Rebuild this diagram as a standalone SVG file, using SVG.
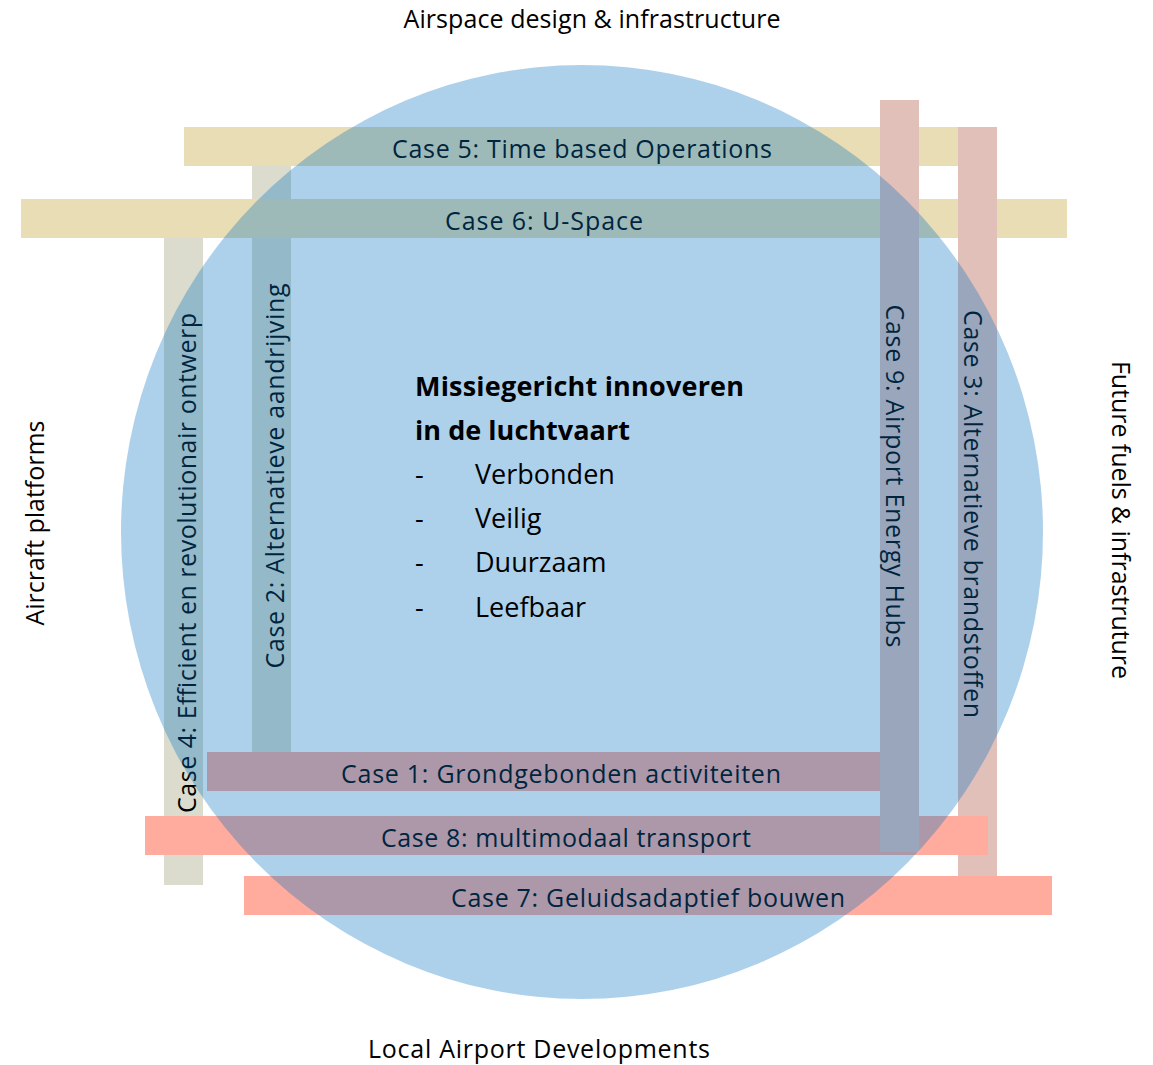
<svg xmlns="http://www.w3.org/2000/svg" width="1153" height="1065" viewBox="0 0 1153 1065">
<style>
text{font-family:"Open Sans","Noto Sans","Liberation Sans",sans-serif;fill:#000;}
.lbl{font-size:25px;}
.ax{font-size:25px;}
.grey{fill:#DBDCCD;}
.yel{fill:#E8DDB4;}
.pink{fill:#E2C0BA;}
.sal{fill:#FFAB9E;}
.mid{text-anchor:middle;}
.ctr{font-size:27px;}
.b{font-weight:bold;}
</style>
<rect width="1153" height="1065" fill="#fff"/>
<g id="axes">
<text class="ax mid" x="592" y="28" textLength="377" lengthAdjust="spacing">Airspace design &amp; infrastructure</text>
<text class="ax mid" x="539" y="1058" textLength="342" lengthAdjust="spacing">Local Airport Developments</text>
<text class="ax mid" transform="translate(44,523) rotate(-90)" textLength="205" lengthAdjust="spacing">Aircraft platforms</text>
<text class="ax mid" transform="translate(1112,520) rotate(90)" textLength="318" lengthAdjust="spacing">Future fuels &amp; infrastruture</text>
</g>
<g id="case2">
<rect class="grey" x="252" y="165" width="39" height="587"/>
<text class="lbl mid" transform="translate(284,476) rotate(-90)" textLength="385" lengthAdjust="spacing">Case 2: Alternatieve aandrijving</text>
</g>
<g id="case4">
<rect class="grey" x="164" y="238" width="39" height="647"/>
<text class="lbl mid" transform="translate(196,563) rotate(-90)" textLength="500" lengthAdjust="spacing">Case 4: Efficient en revolutionair ontwerp</text>
</g>
<g id="case5">
<rect class="yel" x="184" y="127" width="774" height="39"/>
<text class="lbl mid" x="582" y="158" textLength="380" lengthAdjust="spacing">Case 5: Time based Operations</text>
</g>
<g id="case6">
<rect class="yel" x="21" y="199" width="1046" height="39"/>
<text class="lbl mid" x="544" y="230" textLength="198" lengthAdjust="spacing">Case 6: U-Space</text>
</g>
<g id="case3">
<rect class="pink" x="958" y="127" width="39" height="750"/>
<text class="lbl mid" transform="translate(964,514) rotate(90)" textLength="408" lengthAdjust="spacing">Case 3: Alternatieve brandstoffen</text>
</g>
<g id="case1">
<rect class="sal" x="207" y="752" width="673" height="39"/>
<text class="lbl mid" x="561" y="783" textLength="440" lengthAdjust="spacing">Case 1: Grondgebonden activiteiten</text>
</g>
<g id="case8">
<rect class="sal" x="145" y="816" width="843" height="39"/>
<text class="lbl mid" x="566" y="847" textLength="370" lengthAdjust="spacing">Case 8: multimodaal transport</text>
</g>
<g id="case9">
<rect class="pink" x="880" y="100" width="39" height="752"/>
<text class="lbl mid" transform="translate(886,476) rotate(90)" textLength="343" lengthAdjust="spacing">Case 9: Airport Energy Hubs</text>
</g>
<g id="case7">
<rect class="sal" x="244" y="876" width="808" height="39"/>
<text class="lbl mid" x="648" y="907" textLength="394" lengthAdjust="spacing">Case 7: Geluidsadaptief bouwen</text>
</g>
<g id="mission">
<ellipse cx="582" cy="532" rx="461" ry="467" fill="#0070C0" fill-opacity="0.32"/>
<text class="ctr b" x="415" y="396" textLength="329" lengthAdjust="spacing">Missiegericht innoveren</text>
<text class="ctr b" x="415" y="440" textLength="215" lengthAdjust="spacing">in de luchtvaart</text>
<text class="ctr" x="415" y="484">-</text>
<text class="ctr" x="475" y="484">Verbonden</text>
<text class="ctr" x="415" y="528">-</text>
<text class="ctr" x="475" y="528">Veilig</text>
<text class="ctr" x="415" y="572">-</text>
<text class="ctr" x="475" y="572">Duurzaam</text>
<text class="ctr" x="415" y="617">-</text>
<text class="ctr" x="475" y="617">Leefbaar</text>
</g>
</svg>
